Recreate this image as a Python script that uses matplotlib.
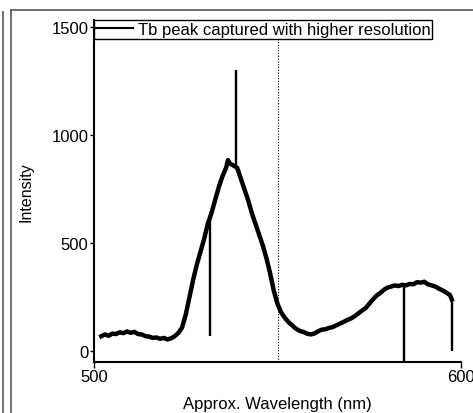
import matplotlib
matplotlib.use("Agg")
import matplotlib.pyplot as plt
from matplotlib.lines import Line2D

plt.rcParams['font.family'] = ['Liberation Sans', 'DejaVu Sans']

wavelength = [502, 503, 504, 505, 506, 507, 508, 509, 510, 511, 512, 513, 514, 515,
              516, 517, 518, 519, 520, 521, 522, 523, 524, 525, 526, 527, 528, 529,
              530, 531, 532, 533, 534, 535, 536, 536.5, 537, 538, 539, 540, 541,
              542, 543, 544, 545, 546, 547, 548, 549, 550, 551, 552, 553, 554, 555,
              556, 557, 558, 559, 560, 561, 562, 563, 564, 565, 566, 567, 568, 569,
              570, 571, 572, 573, 574, 575, 576, 577, 578, 579, 580, 581, 582, 583,
              584, 585, 586, 587, 588, 589, 590, 591, 592, 593, 594, 595, 596, 597,
              597.5]
intensity = [70, 78, 72, 82, 80, 88, 84, 92, 86, 90, 80, 78, 70, 68,
             62, 64, 58, 62, 55, 60, 70, 85, 110, 170, 250, 330, 400, 460,
             520, 590, 640, 700, 760, 810, 850, 885, 870, 860, 850, 800, 750,
             700, 640, 590, 540, 490, 430, 360, 280, 220, 180, 155, 135, 120, 105,
             95, 90, 82, 78, 82, 92, 100, 102, 108, 112, 120, 128, 136, 145,
             152, 162, 175, 188, 200, 220, 240, 258, 270, 285, 295, 300, 305, 302,
             308, 305, 312, 310, 320, 318, 322, 310, 305, 300, 290, 282, 272, 260,
             240]

# narrow artefact spikes in the stitched spectrum
spike_wl = [531.6, 538.8, 584.5, 597.5]
spike_from = [615, 855, 306, 240]
spike_to = [69, 1304, -80, 0]

xticks = [500, 600]
yticks = [0, 500, 1000, 1500]

W, H = 473, 414
fig = plt.figure(figsize=(W / 100, H / 100), dpi=100)
ax = fig.add_axes([94 / W, 1 - 363 / H, (461 - 94) / W, (363 - 21) / H])

ax.plot(wavelength, intensity, color='black', lw=3.2,
        label='Tb peak captured with higher resolution')
ax.vlines(spike_wl, spike_from, spike_to, color='black', lw=1.7)
ax.axvline(550, color='black', lw=0.8, ls=(0, (1, 1.5)))

ax.set_xlim(500, 600)
ax.set_ylim(-49.5, 1534)
ax.set_xticks(xticks)
ax.set_yticks(yticks)
ax.tick_params(labelsize=12, width=1, length=3, direction='out', pad=1)
ax.tick_params(axis='x', length=4)
for s in ['top', 'right']:
    ax.spines[s].set_visible(False)
for s in ['left', 'bottom']:
    ax.spines[s].set_linewidth(1.5)

ax.set_xlabel('Approx. Wavelength (nm)', fontsize=12, labelpad=9)
ax.set_ylabel('Intensity', fontsize=11.5, labelpad=13)

leg = ax.legend(loc='upper left', bbox_to_anchor=(0, 1), borderaxespad=0,
                fontsize=12, frameon=True, fancybox=False, handlelength=2.2,
                handletextpad=0.3, borderpad=0.12)
leg.get_frame().set_edgecolor('black')
leg.get_frame().set_linewidth(1.0)
leg.get_frame().set_alpha(1)
for l in leg.get_lines():
    l.set_linewidth(1.5)

# screenshot frame lines
def fl(x0, y0, x1, y1, c='#555555', lw=1.2):
    fig.add_artist(Line2D([x0 / W, x1 / W], [1 - y0 / H, 1 - y1 / H],
                          color=c, lw=lw, transform=fig.transFigure))

fl(11, 11, 473, 11)
fl(11, 11, 11, 414)
fl(3, 13, 3, 414)

fig.savefig('out.png', dpi=100)
